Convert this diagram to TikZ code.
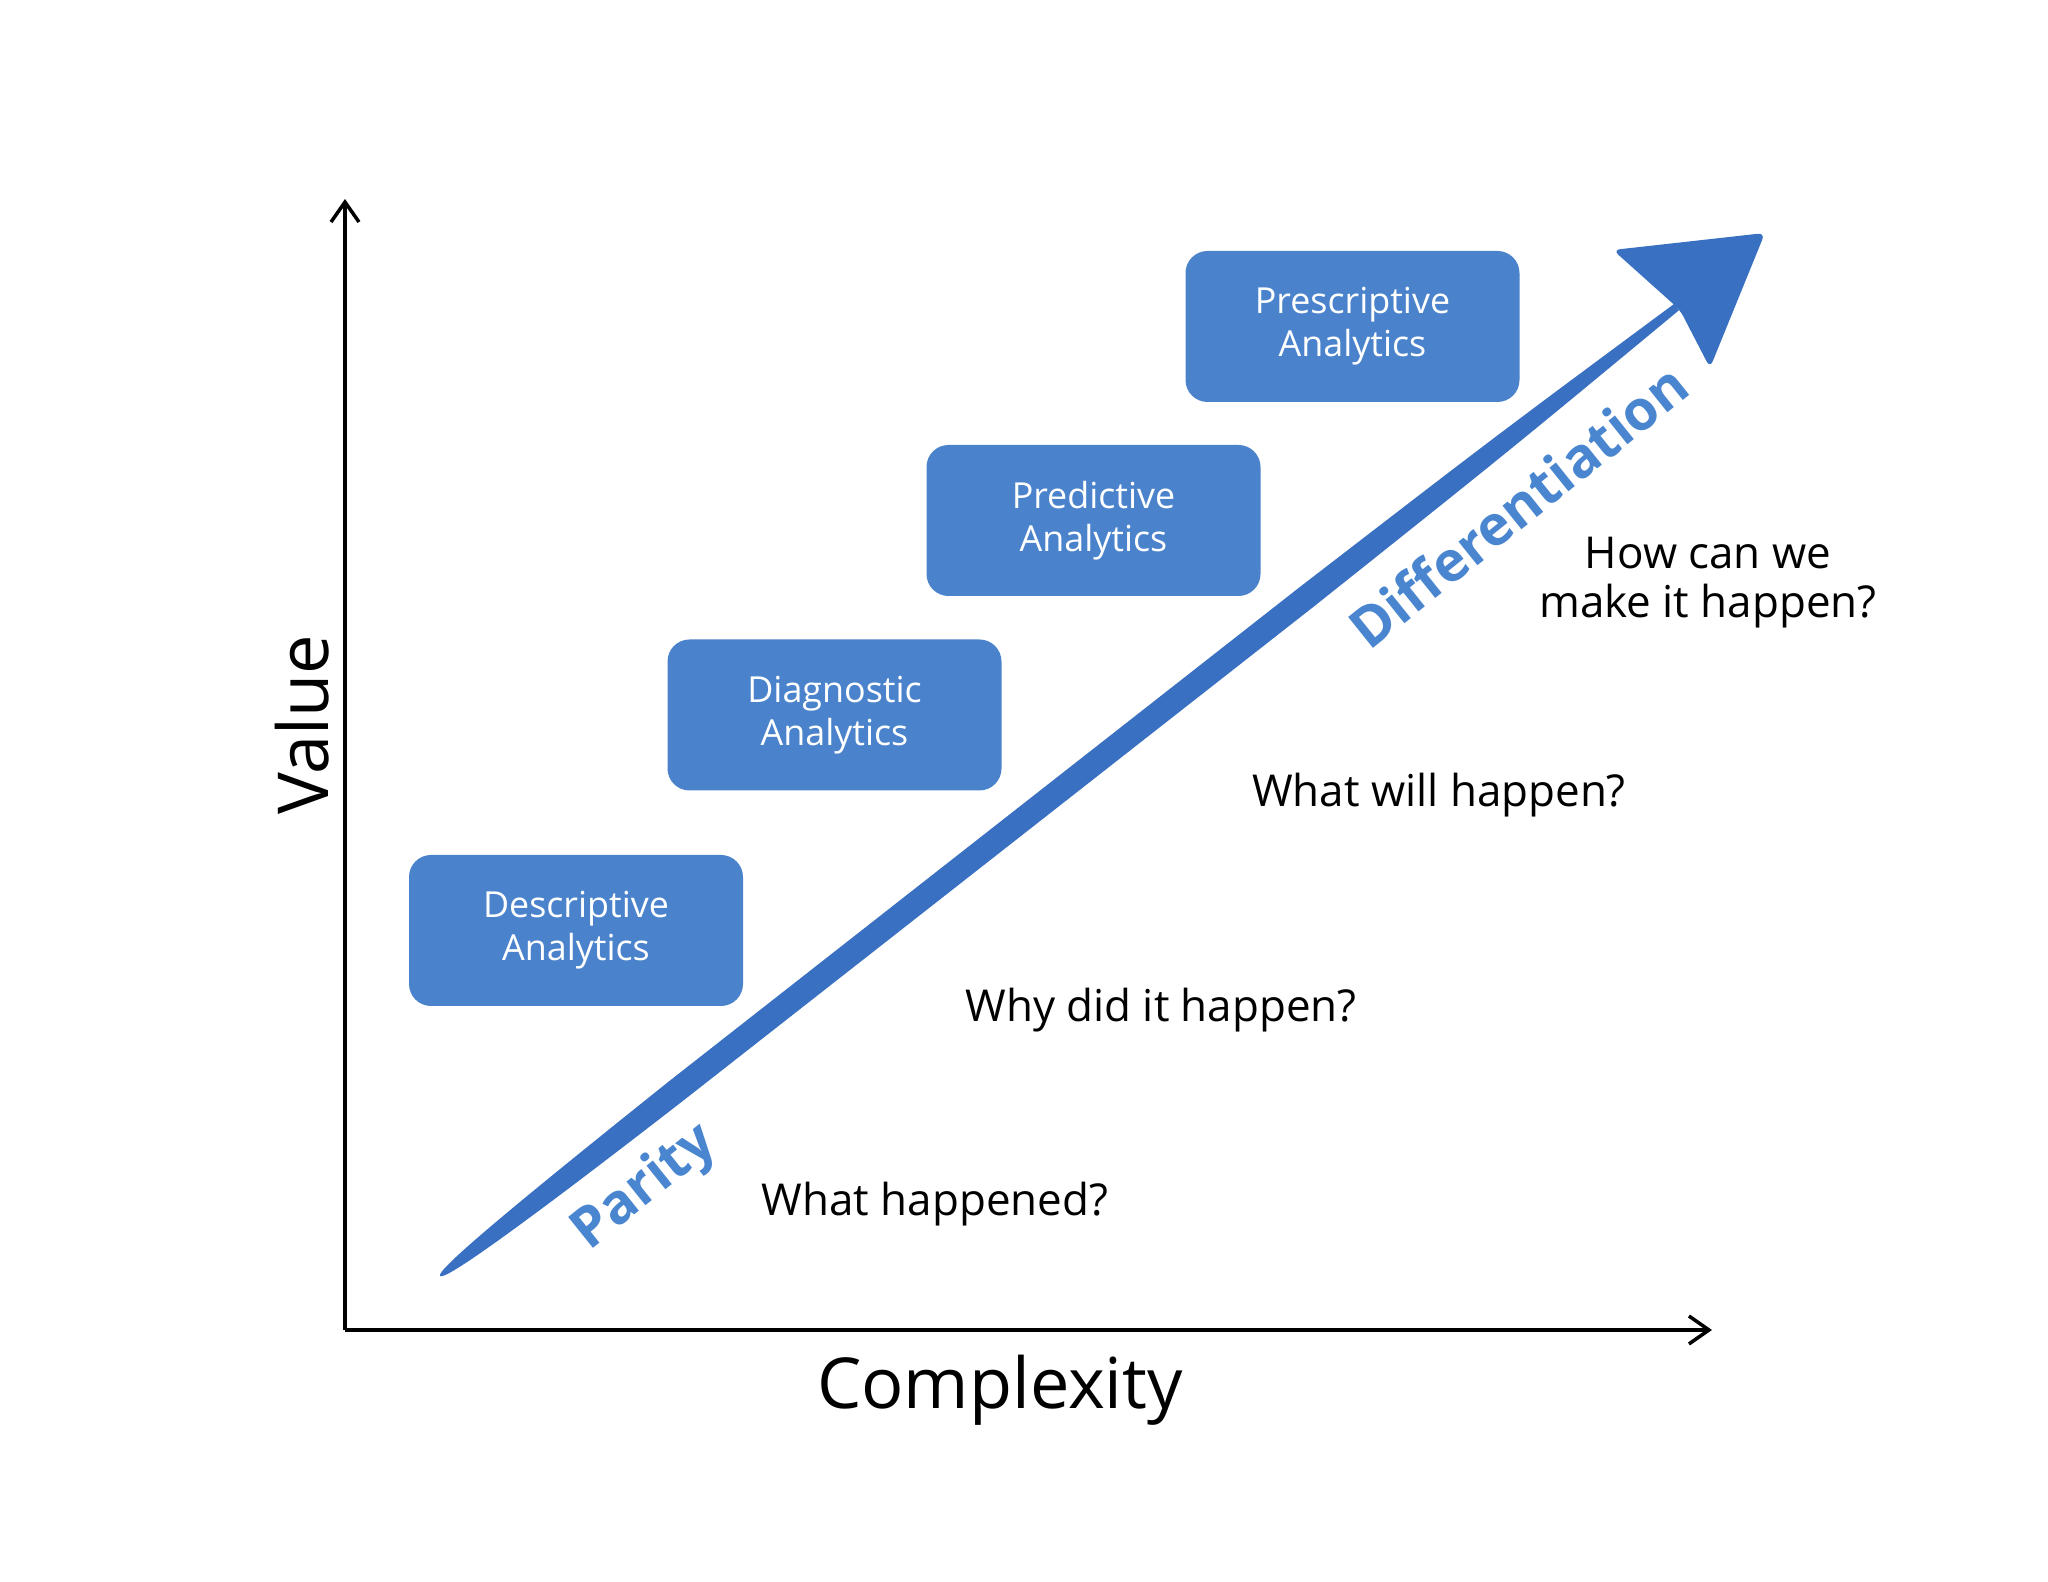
\documentclass[tikz,border=0pt]{standalone}
\usepackage{fontspec}
\setmainfont{Open Sans}
\usetikzlibrary{arrows.meta,calc}
\definecolor{boxblue}{HTML}{4A83CC}
\definecolor{arrowblue}{HTML}{3A70C1}
\definecolor{labelblue}{HTML}{4A86D0}
\tikzset{
  >={Straight Barb[length=2mm,width=2.8mm]},
  stage/.style={rectangle,rounded corners=2.2mm,fill=boxblue,text=white,minimum width=3.34cm,
    minimum height=1.51cm,align=center,font=\fontsize{10.2}{12.3}\selectfont},
  quest/.style={align=center,font=\fontsize{12.5}{14}\selectfont},
  axlabel/.style={font=\fontsize{20}{24}\selectfont},
  trend/.style={text=labelblue,rotate=38.7,font=\fontsize{15.8}{19}\selectfont\bfseries},
  every picture/.style={line width=0.5pt},
}
\begin{document}
\begin{tikzpicture}
\useasboundingbox (0,0) rectangle (20.48,15.82);
% axes
\coordinate (O) at (3.45,2.52); \coordinate (ytop) at (3.45,13.83); \coordinate (xend) at (17.12,2.52);
\draw[line width=1pt,->] (O)--(ytop); \draw[line width=1pt,->] (O)--(xend);
\node[axlabel] (cx) at (10.0,1.92){Complexity};
\node[axlabel,rotate=90] (val) at (3.02,8.57){Value};
% big arrow
\coordinate (T) at (4.40,3.06);
\begin{scope}[shift={(T)},rotate=38.08]
\fill[arrowblue] (0,0) .. controls (0,0.07) and (1,0.10) .. (3,0.12) -- (11,0.12)
  .. controls (13.5,0.10) .. (15.71,0.04) -- (15.71,-0.04) .. controls (13.5,-0.10) .. (11,-0.12)
  -- (3,-0.12) .. controls (1,-0.11) and (0,-0.07) .. cycle;
\end{scope}
\fill[arrowblue,rounded corners=2pt] (16.13,13.32) -- (17.65,13.49) -- (17.10,12.14) -- (16.80,12.72) -- cycle;
\node[trend] (par) at (6.45,3.94){Parity};
\node[trend] (dif) at (15.18,10.76){Differentiation};
% stages
\node[stage] (desc) at (5.76,6.515){Descriptive\\Analytics};
\node[stage] (diag) at (8.345,8.67){Diagnostic\\Analytics};
\node[stage] (pred) at (10.935,10.615){Predictive\\Analytics};
\node[stage] (presc) at (13.525,12.555){Prescriptive\\Analytics};
% questions
\node[quest] (q1) at (9.35,3.78){What happened?};
\node[quest] (q2) at (11.61,5.72){Why did it happen?};
\node[quest] (q3) at (14.39,7.87){What will happen?};
\node[quest] (q4) at (17.08,9.99){How can we\\make it happen?};
\end{tikzpicture}
\end{document}
